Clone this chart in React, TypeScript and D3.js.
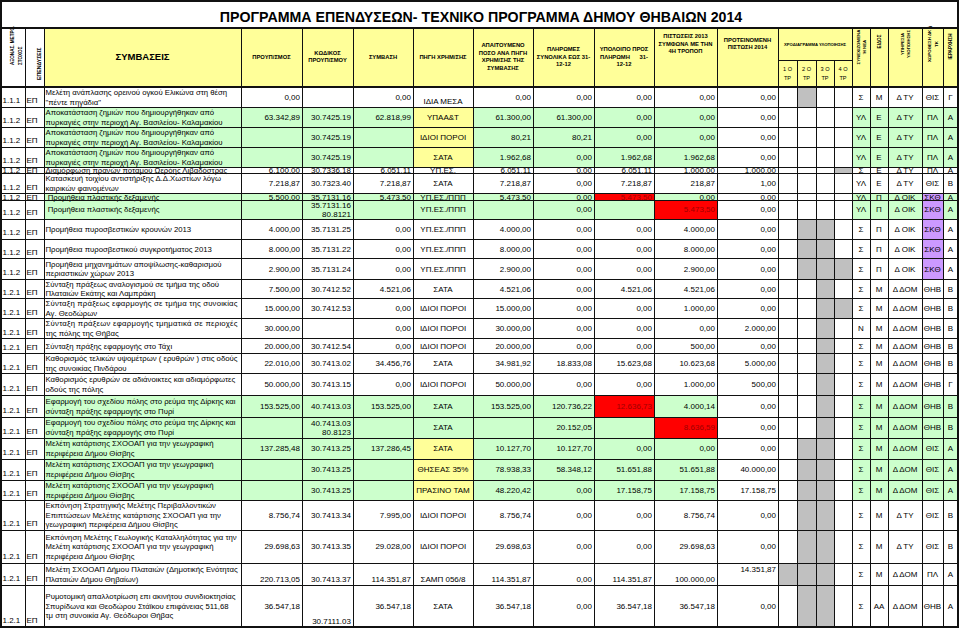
import React, { useEffect, useRef } from "react";
import * as d3 from "d3";

const FONT = "'Liberation Sans', Arial, Helvetica, sans-serif";

const title = "ΠΡΟΓΡΑΜΜΑ ΕΠΕΝΔΥΣΕΩΝ- ΤΕΧΝΙΚΟ ΠΡΟΓΡΑΜΜΑ ΔΗΜΟΥ ΘΗΒΑΙΩΝ 2014";

const columns = ["A", "B", "C", "D", "E", "F", "G", "H", "I", "J", "K", "L", "M", "N", "O", "P", "Q", "R", "S", "T", "U"];
const colWidths = [24, 19, 197, 61, 51, 60, 60, 60, 61, 60, 63, 61, 19, 19, 18, 18, 18, 18, 34, 21, 15];
const rowHeights = [20, 20, 20, 20, 6.5, 20, 6.5, 19, 20, 19.5, 20.5, 19.5, 20, 20, 15, 20, 21.5, 22, 21, 21, 21, 20, 30, 33, 22, 42];

// header labels
const headLabels: Record<string, string[]> = {
  C: ["ΣΥΜΒΑΣΕΙΣ"],
  D: ["ΠΡΟΥΠ/ΣΜΟΣ"],
  E: ["ΚΩΔΙΚΟΣ", "ΠΡΟΥΠ/ΣΜΟΥ"],
  F: ["ΣΥΜΒΑΣΗ"],
  G: ["ΠΗΓΗ ΧΡΗΜ/ΣΗΣ"],
  H: ["ΑΠΑΙΤΟΥΜΕΝΟ", "ΠΟΣΟ ΑΝΑ ΠΗΓΗ", "ΧΡΗΜ/ΣΗΣ ΤΗΣ", "ΣΥΜΒΑΣΗΣ"],
  I: ["ΠΛΗΡΩΜΕΣ", "ΣΥΝΟΛΙΚΑ ΕΩΣ 31-", "12-12"],
  J: ["ΥΠΟΛΟΙΠΟ ΠΡΟΣ", "ΠΛΗΡΩΜΗ      31-", "12-12"],
  K: ["ΠΙΣΤΩΣΕΙΣ 2013", "ΣΥΜΦΩΝΑ ΜΕ ΤΗΝ", "4Η ΤΡΟΠΟΠ"],
  L: ["ΠΡΟΤΕΙΝΟΜΕΝΗ", "ΠΙΣΤΩΣΗ 2014"],
};
const scheduleLabel = "ΧΡΟΔΙΑΓΡΑΜΜΑ ΥΛΟΠΟΙΗΣΗΣ";
const quarterLabels = ["1 Ο", "2 Ο", "3 Ο", "4 Ο"];
const rotLabels: Record<string, string[]> = {
  A: ["ΑΞΟΝΑΣ. ΜΕΤΡΟ.", "ΣΤΟΧΟΣ"],
  B: ["ΕΠΕΝΔΥΣΕΙΣ"],
  Q: ["ΣΥΝΕΧΙΖΟΜΕΝΑ", "Ή ΝΕΑ"],
  R: ["ΕΙΔΟΣ"],
  S: ["ΥΠΗΡΕΣΙΑ", "ΥΛΟΠΟΙΗΣΗΣ"],
  T: ["ΧΩΡΟΘΕΣΗ ΔΚ ή", "ΤΚ"],
  U: ["ΙΕΡΑΡΧΗΣΗ"],
};

// body data
const axisCodes = ["1.1.1", "1.1.2", "1.1.2", "1.1.2", "1.1.2", "1.1.2", "1.1.2", "1.1.2", "1.1.2", "1.1.2", "1.1.2",
  "1.2.1", "1.2.1", "1.2.1", "1.2.1", "1.2.1", "1.2.1", "1.2.1", "1.2.1", "1.2.1", "1.2.1", "1.2.1", "1.2.1", "1.2.1", "1.2.1", "1.2.1"];
const invTypes = axisCodes.map(() => "ΕΠ");
const contracts = [
  "Μελέτη ανάπλασης ορεινού ογκού Ελικώνα στη θέση\n\"πέντε πηγάδια\"",
  "Αποκατάσταση ζημιών που δημιουργήθηκαν από\nπυρκαγιές στην περιοχή Αγ. Βασιλείου- Καλαμακίου",
  "Αποκατάσταση ζημιών που δημιουργήθηκαν από\nπυρκαγιές στην περιοχή Αγ. Βασιλείου- Καλαμακίου",
  "Αποκατάσταση ζημιών που δημιουργήθηκαν από\nπυρκαγιές στην περιοχή Αγ. Βασιλείου- Καλαμακίου",
  "Διαμόρφωση πρανών ποταμού Ωερόης Λιβαδόστρας",
  "Κατασκευή τοιχίου αντιστήριξης Δ.Δ.Χωστίων λόγω\nκαιρικών φαινομένων",
  " Προμήθεια πλαστικής δεξαμενής",
  " Προμήθεια πλαστικής δεξαμενής",
  "Προμήθεια πυροσβεστικών κρουνών 2013",
  "Προμήθεια πυροσβεστικού συγκροτήματος 2013",
  "Προμήθεια μηχανημάτων αποψίλωσης-καθαρισμού\nπεριαστικών χώρων 2013",
  "Σύνταξη πράξεως αναλογισμού σε τμήμα της οδού\nΠλαταιών Εκάτης και Λαμπράκη",
  "Σύνταξη πράξεως εφαρμογής σε τμήμα της συνοικίας\nΑγ. Θεοδώρων",
  "Σύνταξη πράξεων εφαρμογής τμηματικά σε περιοχές\nτης πόλης της Θήβας",
  "Σύνταξη πράξης εφαρμογής στο Τάχι",
  "Καθορισμός τελικών υψομέτρων ( ερυθρών ) στις οδούς\nτης συνοικίας Πινδάρου",
  "Καθορισμός ερυθρών σε αδιάνοικτες και αδιαμόρφωτες\nοδούς της πόλης",
  "Εφαρμογή του σχεδίου πόλης στο ρεύμα της Δίρκης και\nσύνταξη πράξης εφαρμογής στο Πυρί",
  "Εφαρμογή του σχεδίου πόλης στο ρεύμα της Δίρκης και\nσύνταξη πράξης εφαρμογής στο Πυρί",
  "Μελέτη κατάρτισης ΣΧΟΟΑΠ για την γεωγραφική\nπεριφέρεια Δήμου Θίσβης",
  "Μελέτη κατάρτισης ΣΧΟΟΑΠ για την γεωγραφική\nπεριφέρεια Δήμου Θίσβης",
  "Μελέτη κατάρτισης ΣΧΟΟΑΠ για την γεωγραφική\nπεριφέρεια Δήμου Θίσβης",
  "Εκπόνηση Στρατηγικής Μελέτης Περιβαλλοντικών\nΕπιπτώσεων Μελέτης κατάρτισης ΣΧΟΟΑΠ για την\nγεωγραφική περιφέρεια Δήμου Θίσβης",
  "Εκπόνηση Μελέτης Γεωλογικής Καταλληλότητας για την\nΜελέτη κατάρτισης ΣΧΟΟΑΠ για την γεωγραφική\nπεριφέρεια Δήμου Θίσβης",
  "Μελέτη ΣΧΟΟΑΠ Δήμου Πλαταιών (Δημοτικής Ενότητας\nΠλαταιών Δήμου Θηβαίων)",
  "Ρυμοτομική απαλλοτρίωση επι ακινήτου συνιδιοκτησίας\nΣπυρίδωνα και Θεοδώρου Στάϊκου επιφάνειας 511,68\nτμ στη συνοικία Αγ. Θεόδωροι Θήβας",
];
const budgets = ["0,00", "63.342,89", "", "", "6.100,00", "7.218,87", "5.500,00", "", "4.000,00", "8.000,00", "2.900,00", "7.500,00", "15.000,00",
  "30.000,00", "20.000,00", "22.010,00", "50.000,00", "153.525,00", "", "137.285,48", "", "", "8.756,74", "29.698,63", "220.713,05", "36.547,18"];
const budgetCodes = ["", "30.7425.19", "30.7425.19", "30.7425.19", "30.7336.18", "30.7323.40", "35.7131.16", "35.7131.16\n80.8121", "35.7131.25",
  "35.7131.22", "35.7131.24", "30.7412.52", "30.7412.53", "", "30.7412.54", "30.7413.02", "30.7413.15", "40.7413.03", "40.7413.03\n80.8123",
  "30.7413.25", "30.7413.25", "30.7413.25", "30.7413.34", "30.7413.35", "30.7413.37", "30.7111.03"];
const contractAmounts = ["0,00", "62.818,99", "", "", "6.051,11", "7.218,87", "5.473,50", "", "0,00", "0,00", "0,00", "4.521,06", "0,00", "0,00",
  "0,00", "34.456,76", "0,00", "153.525,00", "", "137.286,45", "", "", "7.995,00", "29.028,00", "114.351,87", "36.547,18"];
const sources = ["ΙΔΙΑ ΜΕΣΑ", "ΥΠΑΑ&Τ", "ΙΔΙΟΙ ΠΟΡΟΙ", "ΣΑΤΑ", "ΥΠ.ΕΣ.", "ΣΑΤΑ", "ΥΠ.ΕΣ./ΠΠΠ", "ΥΠ.ΕΣ./ΠΠΠ", "ΥΠ.ΕΣ./ΠΠΠ", "ΥΠ.ΕΣ./ΠΠΠ",
  "ΥΠ.ΕΣ./ΠΠΠ", "ΣΑΤΑ", "ΙΔΙΟΙ ΠΟΡΟΙ", "ΙΔΙΟΙ ΠΟΡΟΙ", "ΙΔΙΟΙ ΠΟΡΟΙ", "ΣΑΤΑ", "ΙΔΙΟΙ ΠΟΡΟΙ", "ΣΑΤΑ", "ΣΑΤΑ", "ΣΑΤΑ", "ΘΗΣΕΑΣ 35%",
  "ΠΡΑΣΙΝΟ ΤΑΜ", "ΙΔΙΟΙ ΠΟΡΟΙ", "ΙΔΙΟΙ ΠΟΡΟΙ", "ΣΑΜΠ 056/8", "ΣΑΤΑ"];
const required = ["0,00", "61.300,00", "80,21", "1.962,68", "6.051,11", "7.218,87", "5.473,50", "", "4.000,00", "8.000,00", "2.900,00",
  "4.521,06", "15.000,00", "30.000,00", "20.000,00", "34.981,92", "50.000,00", "153.525,00", "", "10.127,70", "78.938,33", "48.220,42",
  "8.756,74", "29.698,63", "114.351,87", "36.547,18"];
const payments = ["0,00", "61.300,00", "80,21", "0,00", "0,00", "0,00", "0,00", "0,00", "0,00", "0,00", "0,00", "0,00", "0,00", "0,00", "0,00",
  "18.833,08", "0,00", "120.736,22", "20.152,05", "10.127,70", "58.348,12", "0,00", "0,00", "0,00", "0,00", "0,00"];
const remaining = ["0,00", "0,00", "0,00", "1.962,68", "6.051,11", "7.218,87", "5.473,50", "", "0,00", "0,00", "0,00", "4.521,06", "0,00", "0,00",
  "0,00", "15.623,68", "0,00", "12.636,73", "", "0,00", "51.651,88", "17.158,75", "0,00", "0,00", "114.351,87", "36.547,18"];
const credits2013 = ["0,00", "0,00", "0,00", "1.962,68", "1.000,00", "218,87", "0,00", "5.473,50", "4.000,00", "8.000,00", "2.900,00",
  "4.521,06", "1.000,00", "0,00", "500,00", "10.623,68", "1.000,00", "4.000,14", "8.636,59", "0,00", "51.651,88", "17.158,75", "8.756,74",
  "29.698,63", "100.000,00", "36.547,18"];
const proposed2014 = ["0,00", "0,00", "0,00", "0,00", "1.000,00", "1,00", "0,00", "0,00", "0,00", "0,00", "0,00", "0,00", "0,00", "2.000,00",
  "0,00", "5.000,00", "500,00", "0,00", "0,00", "0,00", "40.000,00", "17.158,75", "0,00", "0,00", "14.351,87", "0,00"];
// quarters shaded in the implementation schedule (1 = shaded)
const schedule = ["0100", "0000", "0000", "0000", "0001", "0000", "0000", "0000", "0110", "0110", "0111", "0010", "0011", "0010", "0010",
  "0010", "0010", "0010", "0010", "0110", "0110", "0110", "0110", "0110", "1110", "0110"];
const continuing = ["Σ", "ΥΛ", "ΥΛ", "ΥΛ", "Σ", "ΥΛ", "ΥΛ", "ΥΛ", "Σ", "Σ", "Σ", "Σ", "Σ", "Ν", "Σ", "Σ", "Σ", "Σ", "Σ", "Σ", "Σ", "Σ", "Σ", "Σ", "Σ", "Σ"];
const kinds = ["Μ", "Ε", "Ε", "Ε", "Ε", "Ε", "Π", "Π", "Π", "Π", "Π", "Μ", "Μ", "Μ", "Μ", "Μ", "Μ", "Μ", "Μ", "Μ", "Μ", "Μ", "Μ", "Μ", "Μ", "ΑΑ"];
const services = ["Δ ΤΥ", "Δ ΤΥ", "Δ ΤΥ", "Δ ΤΥ", "Δ ΤΥ", "Δ ΤΥ", "Δ ΟΙΚ", "Δ ΟΙΚ", "Δ ΟΙΚ", "Δ ΟΙΚ", "Δ ΟΙΚ", "Δ ΔΟΜ", "Δ ΔΟΜ", "Δ ΔΟΜ",
  "Δ ΔΟΜ", "Δ ΔΟΜ", "Δ ΔΟΜ", "Δ ΔΟΜ", "Δ ΔΟΜ", "Δ ΔΟΜ", "Δ ΔΟΜ", "Δ ΔΟΜ", "Δ ΤΥ", "Δ ΤΥ", "Δ ΔΟΜ", "Δ ΔΟΜ"];
const locations = ["ΘΙΣ", "ΠΛ", "ΠΛ", "ΠΛ", "ΠΛ", "ΘΙΣ", "ΣΚΘ", "ΣΚΘ", "ΣΚΘ", "ΣΚΘ", "ΣΚΘ", "ΘΗΒ", "ΘΗΒ", "ΘΗΒ", "ΘΗΒ", "ΘΗΒ", "ΘΗΒ",
  "ΘΗΒ", "ΘΗΒ", "ΘΙΣ", "ΘΙΣ", "ΘΙΣ", "ΘΙΣ", "ΘΙΣ", "ΠΛ", "ΘΗΒ"];
const priorities = ["Γ", "Α", "Α", "Α", "Α", "Β", "Α", "Α", "Α", "Α", "Α", "Β", "Β", "Β", "Β", "Β", "Γ", "Β", "Β", "Α", "Α", "Α", "Β", "Β", "Α", "Α"];

// highlighted rows / cells
const greenRows = [1, 2, 3, 6, 7, 17, 18, 19, 20, 21];
const yellowSourceRows = [1, 2, 3, 19, 20, 21];
const purpleLocationRows = [6, 7, 8, 9, 10];
const redCells = [[6, "J"], [7, "K"], [17, "J"], [18, "K"]];
const justifiedRows = [12, 13];

const GREEN = "#CCFFCC", YELLOW = "#FFFF99", GREY = "#C0C0C0", PURPLE = "#CC99FF", RED = "#FF0000";

export default function App() {
  const ref = useRef<SVGSVGElement>(null);

  useEffect(() => {
    const svg = d3.select(ref.current);
    svg.selectAll("*").remove();

    const edges = [1, ...Array.from(d3.cumsum(colWidths), (d) => d + 1)];
    const x = d3.scaleOrdinal<string, number>().domain(columns).range(edges.slice(0, -1));
    const w = (c: string) => colWidths[columns.indexOf(c)];
    const right = edges[edges.length - 1];
    const headTop = 28, subTop = 60, bodyTop = 87;
    const yEdges = [bodyTop, ...Array.from(d3.cumsum(rowHeights), (d) => d + bodyTop)];
    const bottomY = yEdges[yEdges.length - 1];

    const fills = svg.append("g");
    const texts = svg.append("g").attr("font-family", FONT).attr("fill", "#000");
    const grid = svg.append("g").attr("stroke", "#111").attr("shape-rendering", "crispEdges");

    const putLines = (lines: string[], o: { x: number; anchor: string; top: number; bottom: number; valign: string; size: number; lh: number; bold?: boolean; color?: string; justify?: number }) => {
      const n = lines.length;
      const mid = (o.top + o.bottom) / 2;
      let first;
      if (o.valign === "bottom") first = o.bottom - 2.6 - (n - 1) * o.lh;
      else if (o.valign === "top") first = o.top + o.size + 1;
      else first = mid - ((n - 1) * o.lh) / 2 + o.size * 0.36;
      lines.forEach((ln, k) => {
        const t = texts.append("text")
          .attr("x", o.x)
          .attr("y", first + k * o.lh)
          .attr("text-anchor", o.anchor)
          .attr("font-size", o.size)
          .attr("font-weight", o.bold ? "bold" : "normal")
          .style("white-space", "pre")
          .attr("fill", o.color || "#000")
          .text(ln);
        if (o.justify && k < n - 1) t.attr("textLength", o.justify).attr("lengthAdjust", "spacing");
      });
    };

    // title
    texts.append("text")
      .attr("x", 481).attr("y", 21.5)
      .attr("text-anchor", "middle")
      .attr("font-size", 14.2).attr("font-weight", "bold")
      .text(title);

    // header fills
    columns.slice(2).forEach((c) => {
      fills.append("rect").attr("x", x(c)).attr("y", headTop).attr("width", w(c)).attr("height", bodyTop - headTop).attr("fill", YELLOW);
    });

    Object.entries(headLabels).forEach(([c, lines]) => {
      const cy = c === "K" || c === "L" ? 43.5 : c === "C" ? 57 : 56.5;
      putLines(lines, {
        x: x(c) + w(c) / 2, anchor: "middle", top: cy - 10, bottom: cy + 10, valign: "middle",
        size: c === "C" ? 9.5 : 5.8, lh: 7.5, bold: true,
      });
    });
    putLines([scheduleLabel], { x: (x("M") + x("Q")) / 2, anchor: "middle", top: headTop, bottom: subTop, valign: "middle", size: 4.2, lh: 5, bold: true });
    quarterLabels.forEach((q, k) => {
      const c = columns[12 + k];
      putLines([q, "ΤΡ"], { x: x(c) + w(c) / 2, anchor: "middle", top: subTop, bottom: bodyTop, valign: "middle", size: 5.6, lh: 8.2 });
    });

    // rotated header labels: [line centres x, anchor, y, size]
    const rotPos: Record<string, [number[], string, number, number]> = {
      A: [[12, 20.5], "start", 65, 4.6],
      B: [[39], "start", 80, 5.2],
      Q: [[858, 864.5], "middle", 47, 4.4],
      R: [[879.5], "middle", 41.5, 4.6],
      S: [[902, 908.5], "middle", 44, 4.4],
      T: [[929.5, 936], "middle", 44, 4.4],
      U: [[950.5], "middle", 46.5, 4.6],
    };
    Object.entries(rotLabels).forEach(([c, lines]) => {
      const [xs, anchor, y, size] = rotPos[c];
      lines.forEach((ln, k) => {
        texts.append("text")
          .attr("transform", `translate(${xs[k] + size * 0.36},${y}) rotate(-90)`)
          .attr("text-anchor", anchor)
          .attr("font-size", size).attr("font-weight", "bold")
          .text(ln);
      });
    });

    // body
    const numCols: [string, string[]][] = [
      ["D", budgets], ["E", budgetCodes], ["F", contractAmounts], ["H", required],
      ["I", payments], ["J", remaining], ["K", credits2013], ["L", proposed2014],
    ];
    const centerCols: [string, string[]][] = [
      ["G", sources], ["Q", continuing], ["R", kinds], ["S", services], ["T", locations], ["U", priorities],
    ];

    contracts.forEach((txt, i) => {
      const top = yEdges[i], bottom = yEdges[i + 1], h = bottom - top;
      const green = greenRows.includes(i);
      const fillOf = (c: string) => {
        if (redCells.some(([r, cc]) => r === i && cc === c)) return RED;
        if (c === "G" && yellowSourceRows.includes(i)) return YELLOW;
        if (c === "T" && purpleLocationRows.includes(i)) return PURPLE;
        const q = "MNOP".indexOf(c);
        if (q >= 0) return schedule[i][q] === "1" ? GREY : null;
        if (green && ("CDEFGHIJK".includes(c) || "QRSTU".includes(c))) return GREEN;
        return null;
      };
      columns.forEach((c) => {
        const f = fillOf(c);
        if (f) fills.append("rect").attr("x", x(c)).attr("y", top).attr("width", w(c)).attr("height", h).attr("fill", f);
      });

      // axis / type
      const abBase = Math.max(bottom - 3.6, (top + bottom) / 2 + 2.9);
      texts.append("text").attr("x", x("A") + 1.5).attr("y", abBase).attr("font-size", 8).text(axisCodes[i]);
      texts.append("text").attr("x", x("B") + 1.5).attr("y", abBase).attr("font-size", 8).text(invTypes[i]);

      // description
      putLines(txt.split("\n"), {
        x: x("C") + 1.5, anchor: "start", top, bottom, valign: "middle", size: 7.75, lh: 9.7,
        justify: justifiedRows.includes(i) ? 192 : undefined,
      });

      numCols.forEach(([c, arr]) => {
        if (!arr[i]) return;
        let valign = "middle";
        if (i === 24) valign = c === "L" ? "top" : "bottom";
        if (i === 25 && c === "E") valign = "bottom";
        putLines(arr[i].split("\n"), {
          x: x(c) + w(c) - 2, anchor: "end", top, bottom, valign, size: 8, lh: 9.7,
          color: fillOf(c) === RED ? "#A00000" : "#000",
        });
      });
      centerCols.forEach(([c, arr]) => {
        if (!arr[i]) return;
        const valign = (i === 0 && c === "G") || (i === 24 && c === "G") ? "bottom" : "middle";
        putLines([arr[i]], { x: x(c) + w(c) / 2, anchor: "middle", top, bottom, valign, size: 8, lh: 9.7 });
      });
    });

    // grid
    const hLine = (y: number, x1: number, x2: number, sw = 1) =>
      grid.append("line").attr("x1", x1).attr("x2", x2).attr("y1", y).attr("y2", y).attr("stroke-width", sw);
    const vLine = (xv: number, y1: number, y2: number, sw = 1) =>
      grid.append("line").attr("x1", xv).attr("x2", xv).attr("y1", y1).attr("y2", y2).attr("stroke-width", sw);

    hLine(headTop, 1, right, 1.5);
    hLine(subTop, x("M"), x("Q"));
    hLine(bodyTop, 1, right, 1.5);
    yEdges.slice(1, -1).forEach((y) => hLine(y, 1, right));
    edges.slice(1, -1).forEach((xv, k) => {
      const c = columns[k + 1];
      vLine(xv, "NOP".includes(c) ? subTop : headTop, bottomY);
    });
    grid.append("rect").attr("x", 1).attr("y", 1).attr("width", right - 1).attr("height", bottomY - 1)
      .attr("fill", "none").attr("stroke-width", 2);
  }, []);

  return (
    <div style={{ position: "absolute", left: 0, top: 0 }}>
      <svg ref={ref} width={960} height={629} style={{ display: "block", background: "#fff" }} />
    </div>
  );
}
